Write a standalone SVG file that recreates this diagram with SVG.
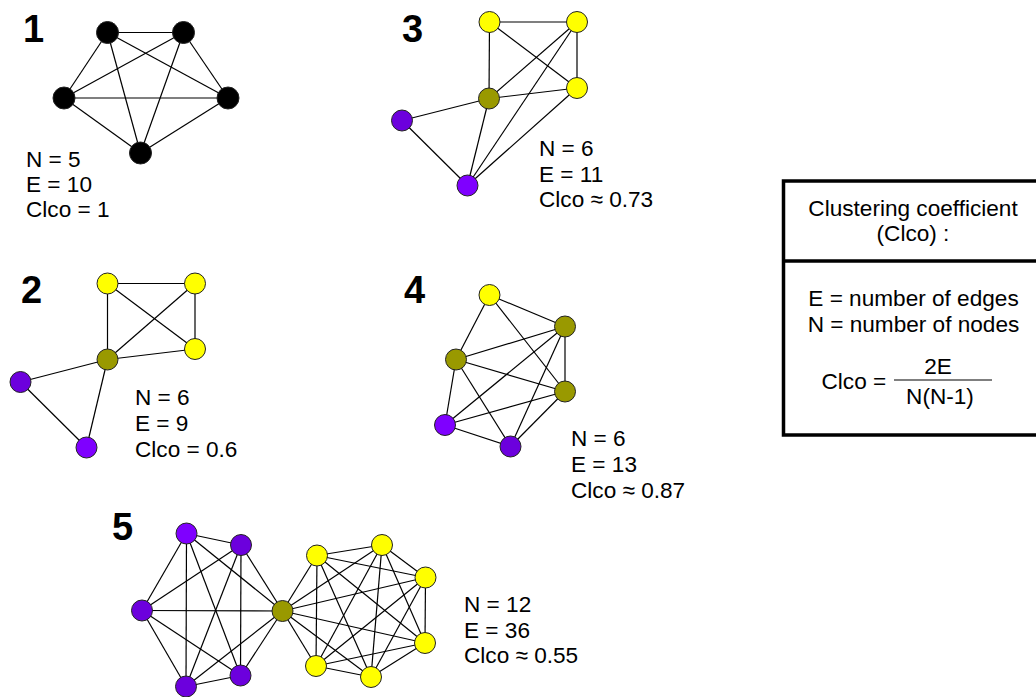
<svg xmlns="http://www.w3.org/2000/svg" width="1036" height="697" viewBox="0 0 1036 697">
<style>
.e{stroke:#000;stroke-width:1.2;fill:none}
.n{stroke:#222;stroke-width:1}
.k{fill:#000}
.y{fill:#ffff00}
.o{fill:#999900}
.p{fill:#7f00ff}
.q{fill:#6c00dd}
.t{font-family:"Liberation Sans",Arial,sans-serif;font-size:22.6px;fill:#000}
.b{font-family:"Liberation Sans",Arial,sans-serif;font-size:38px;font-weight:bold;fill:#000}
.m{text-anchor:middle}
</style>
<rect width="1036" height="697" fill="#fff"/>
<g id="connectors">
<!-- graph 1 -->
<line class="e" x1="107.5" y1="32.5" x2="183.5" y2="32.5"/>
<line class="e" x1="107.5" y1="32.5" x2="64" y2="98"/>
<line class="e" x1="107.5" y1="32.5" x2="228" y2="98"/>
<line class="e" x1="107.5" y1="32.5" x2="140.5" y2="153"/>
<line class="e" x1="183.5" y1="32.5" x2="64" y2="98"/>
<line class="e" x1="183.5" y1="32.5" x2="228" y2="98"/>
<line class="e" x1="183.5" y1="32.5" x2="140.5" y2="153"/>
<line class="e" x1="64" y1="98" x2="228" y2="98"/>
<line class="e" x1="64" y1="98" x2="140.5" y2="153"/>
<line class="e" x1="228" y1="98" x2="140.5" y2="153"/>
<!-- graph 2 -->
<line class="e" x1="107.5" y1="283.5" x2="195" y2="283.5"/>
<line class="e" x1="107.5" y1="283.5" x2="107.5" y2="359.5"/>
<line class="e" x1="107.5" y1="283.5" x2="195" y2="349"/>
<line class="e" x1="195" y1="283.5" x2="195" y2="349"/>
<line class="e" x1="195" y1="283.5" x2="107.5" y2="359.5"/>
<line class="e" x1="195" y1="349" x2="107.5" y2="359.5"/>
<line class="e" x1="107.5" y1="359.5" x2="20.5" y2="382"/>
<line class="e" x1="107.5" y1="359.5" x2="86.5" y2="447.5"/>
<line class="e" x1="20.5" y1="382" x2="86.5" y2="447.5"/>
<!-- graph 3 -->
<line class="e" x1="489.5" y1="22" x2="577" y2="22"/>
<line class="e" x1="489.5" y1="22" x2="489" y2="98.5"/>
<line class="e" x1="489.5" y1="22" x2="577" y2="88"/>
<line class="e" x1="577" y1="22" x2="577" y2="88"/>
<line class="e" x1="577" y1="22" x2="489" y2="98.5"/>
<line class="e" x1="577" y1="22" x2="467.5" y2="185.5"/>
<line class="e" x1="577" y1="88" x2="489" y2="98.5"/>
<line class="e" x1="577" y1="88" x2="467.5" y2="185.5"/>
<line class="e" x1="489" y1="98.5" x2="402" y2="120.5"/>
<line class="e" x1="489" y1="98.5" x2="467.5" y2="185.5"/>
<line class="e" x1="402" y1="120.5" x2="467.5" y2="185.5"/>
<!-- graph 4 -->
<line class="e" x1="489.5" y1="295" x2="565" y2="326.5"/>
<line class="e" x1="489.5" y1="295" x2="456" y2="359.5"/>
<line class="e" x1="489.5" y1="295" x2="565" y2="391.5"/>
<line class="e" x1="565" y1="326.5" x2="456" y2="359.5"/>
<line class="e" x1="565" y1="326.5" x2="565" y2="391.5"/>
<line class="e" x1="565" y1="326.5" x2="445" y2="425"/>
<line class="e" x1="565" y1="326.5" x2="510.5" y2="446.5"/>
<line class="e" x1="456" y1="359.5" x2="565" y2="391.5"/>
<line class="e" x1="456" y1="359.5" x2="445" y2="425"/>
<line class="e" x1="456" y1="359.5" x2="510.5" y2="446.5"/>
<line class="e" x1="565" y1="391.5" x2="445" y2="425"/>
<line class="e" x1="565" y1="391.5" x2="510.5" y2="446.5"/>
<line class="e" x1="445" y1="425" x2="510.5" y2="446.5"/>
<!-- graph 5 purple clique -->
<line class="e" x1="186.5" y1="533.5" x2="241" y2="545"/>
<line class="e" x1="186.5" y1="533.5" x2="142" y2="610.5"/>
<line class="e" x1="186.5" y1="533.5" x2="186" y2="686.5"/>
<line class="e" x1="186.5" y1="533.5" x2="240.5" y2="675.5"/>
<line class="e" x1="186.5" y1="533.5" x2="282.5" y2="611"/>
<line class="e" x1="241" y1="545" x2="142" y2="610.5"/>
<line class="e" x1="241" y1="545" x2="186" y2="686.5"/>
<line class="e" x1="241" y1="545" x2="240.5" y2="675.5"/>
<line class="e" x1="241" y1="545" x2="282.5" y2="611"/>
<line class="e" x1="142" y1="610.5" x2="186" y2="686.5"/>
<line class="e" x1="142" y1="610.5" x2="240.5" y2="675.5"/>
<line class="e" x1="142" y1="610.5" x2="282.5" y2="611"/>
<line class="e" x1="186" y1="686.5" x2="240.5" y2="675.5"/>
<line class="e" x1="186" y1="686.5" x2="282.5" y2="611"/>
<line class="e" x1="240.5" y1="675.5" x2="282.5" y2="611"/>
<!-- graph 5 yellow clique -->
<line class="e" x1="282.5" y1="611" x2="317" y2="555.5"/>
<line class="e" x1="282.5" y1="611" x2="382" y2="545"/>
<line class="e" x1="282.5" y1="611" x2="425.5" y2="577.5"/>
<line class="e" x1="282.5" y1="611" x2="425" y2="643"/>
<line class="e" x1="282.5" y1="611" x2="371" y2="677"/>
<line class="e" x1="282.5" y1="611" x2="316" y2="666"/>
<line class="e" x1="317" y1="555.5" x2="382" y2="545"/>
<line class="e" x1="317" y1="555.5" x2="425.5" y2="577.5"/>
<line class="e" x1="317" y1="555.5" x2="425" y2="643"/>
<line class="e" x1="317" y1="555.5" x2="371" y2="677"/>
<line class="e" x1="317" y1="555.5" x2="316" y2="666"/>
<line class="e" x1="382" y1="545" x2="425.5" y2="577.5"/>
<line class="e" x1="382" y1="545" x2="425" y2="643"/>
<line class="e" x1="382" y1="545" x2="371" y2="677"/>
<line class="e" x1="382" y1="545" x2="316" y2="666"/>
<line class="e" x1="425.5" y1="577.5" x2="425" y2="643"/>
<line class="e" x1="425.5" y1="577.5" x2="371" y2="677"/>
<line class="e" x1="425.5" y1="577.5" x2="316" y2="666"/>
<line class="e" x1="425" y1="643" x2="371" y2="677"/>
<line class="e" x1="425" y1="643" x2="316" y2="666"/>
<line class="e" x1="371" y1="677" x2="316" y2="666"/>
</g>
<g id="graph1">
<circle class="n k" cx="107.5" cy="32.5" r="11"/>
<circle class="n k" cx="183.5" cy="32.5" r="11"/>
<circle class="n k" cx="64" cy="98" r="11"/>
<circle class="n k" cx="228" cy="98" r="11"/>
<circle class="n k" cx="140.5" cy="153" r="11"/>
<text class="b" x="23" y="42">1</text>
<text class="t" x="26" y="166.5">N = 5</text>
<text class="t" x="26" y="191.5">E = 10</text>
<text class="t" x="26" y="216.5">Clco = 1</text>
</g>
<g id="graph2">
<circle class="n y" cx="107.5" cy="283.5" r="10.5"/>
<circle class="n y" cx="195" cy="283.5" r="10.5"/>
<circle class="n y" cx="195" cy="349" r="10.5"/>
<circle class="n o" cx="107.5" cy="359.5" r="10.5"/>
<circle class="n q" cx="20.5" cy="382" r="10.5"/>
<circle class="n p" cx="86.5" cy="447.5" r="10.5"/>
<text class="b" x="21" y="303">2</text>
<text class="t" x="135" y="405">N = 6</text>
<text class="t" x="135" y="431">E = 9</text>
<text class="t" x="135" y="456.5">Clco = 0.6</text>
</g>
<g id="graph3">
<circle class="n y" cx="489.5" cy="22" r="10.5"/>
<circle class="n y" cx="577" cy="22" r="10.5"/>
<circle class="n y" cx="577" cy="88" r="10.5"/>
<circle class="n o" cx="489" cy="98.5" r="10.5"/>
<circle class="n q" cx="402" cy="120.5" r="10.5"/>
<circle class="n p" cx="467.5" cy="185.5" r="10.5"/>
<text class="b" x="402" y="42">3</text>
<text class="t" x="539" y="156">N = 6</text>
<text class="t" x="539" y="181.5">E = 11</text>
<text class="t" x="539" y="207">Clco ≈ 0.73</text>
</g>
<g id="graph4">
<circle class="n y" cx="489.5" cy="295" r="10.5"/>
<circle class="n o" cx="565" cy="326.5" r="10.5"/>
<circle class="n o" cx="456" cy="359.5" r="10.5"/>
<circle class="n o" cx="565" cy="391.5" r="10.5"/>
<circle class="n p" cx="445" cy="425" r="10.5"/>
<circle class="n q" cx="510.5" cy="446.5" r="10.5"/>
<text class="b" x="404" y="303">4</text>
<text class="t" x="571" y="446">N = 6</text>
<text class="t" x="571" y="472">E = 13</text>
<text class="t" x="571" y="497.5">Clco ≈ 0.87</text>
</g>
<g id="graph5">
<circle class="n p" cx="186.5" cy="533.5" r="10.5"/>
<circle class="n q" cx="241" cy="545" r="10.5"/>
<circle class="n q" cx="142" cy="610.5" r="10.5"/>
<circle class="n q" cx="186" cy="686.5" r="10.5"/>
<circle class="n q" cx="240.5" cy="675.5" r="10.5"/>
<circle class="n o" cx="282.5" cy="611" r="10.5"/>
<circle class="n y" cx="317" cy="555.5" r="10.5"/>
<circle class="n y" cx="382" cy="545" r="10.5"/>
<circle class="n y" cx="425.5" cy="577.5" r="10.5"/>
<circle class="n y" cx="425" cy="643" r="10.5"/>
<circle class="n y" cx="371" cy="677" r="10.5"/>
<circle class="n y" cx="316" cy="666" r="10.5"/>
<text class="b" x="112" y="540">5</text>
<text class="t" x="464" y="611.5">N = 12</text>
<text class="t" x="464" y="638">E = 36</text>
<text class="t" x="464" y="663">Clco ≈ 0.55</text>
</g>
<g id="legend">
<rect x="783.5" y="181" width="300" height="254" fill="none" stroke="#000" stroke-width="3.5"/>
<line x1="783.5" y1="261" x2="1040" y2="261" stroke="#000" stroke-width="3.5"/>
<text class="t m" x="913" y="215.5">Clustering coefficient</text>
<text class="t m" x="913" y="241">(Clco) :</text>
<text class="t m" x="913.5" y="306">E = number of edges</text>
<text class="t m" x="913.5" y="331.5">N = number of nodes</text>
<text class="t" x="821.5" y="388.5">Clco =</text>
<text class="t m" x="938" y="374">2E</text>
<line x1="894" y1="380" x2="992" y2="380" stroke="#000" stroke-width="1.2"/>
<text class="t m" x="940" y="403.5">N(N-1)</text>
</g>
</svg>
